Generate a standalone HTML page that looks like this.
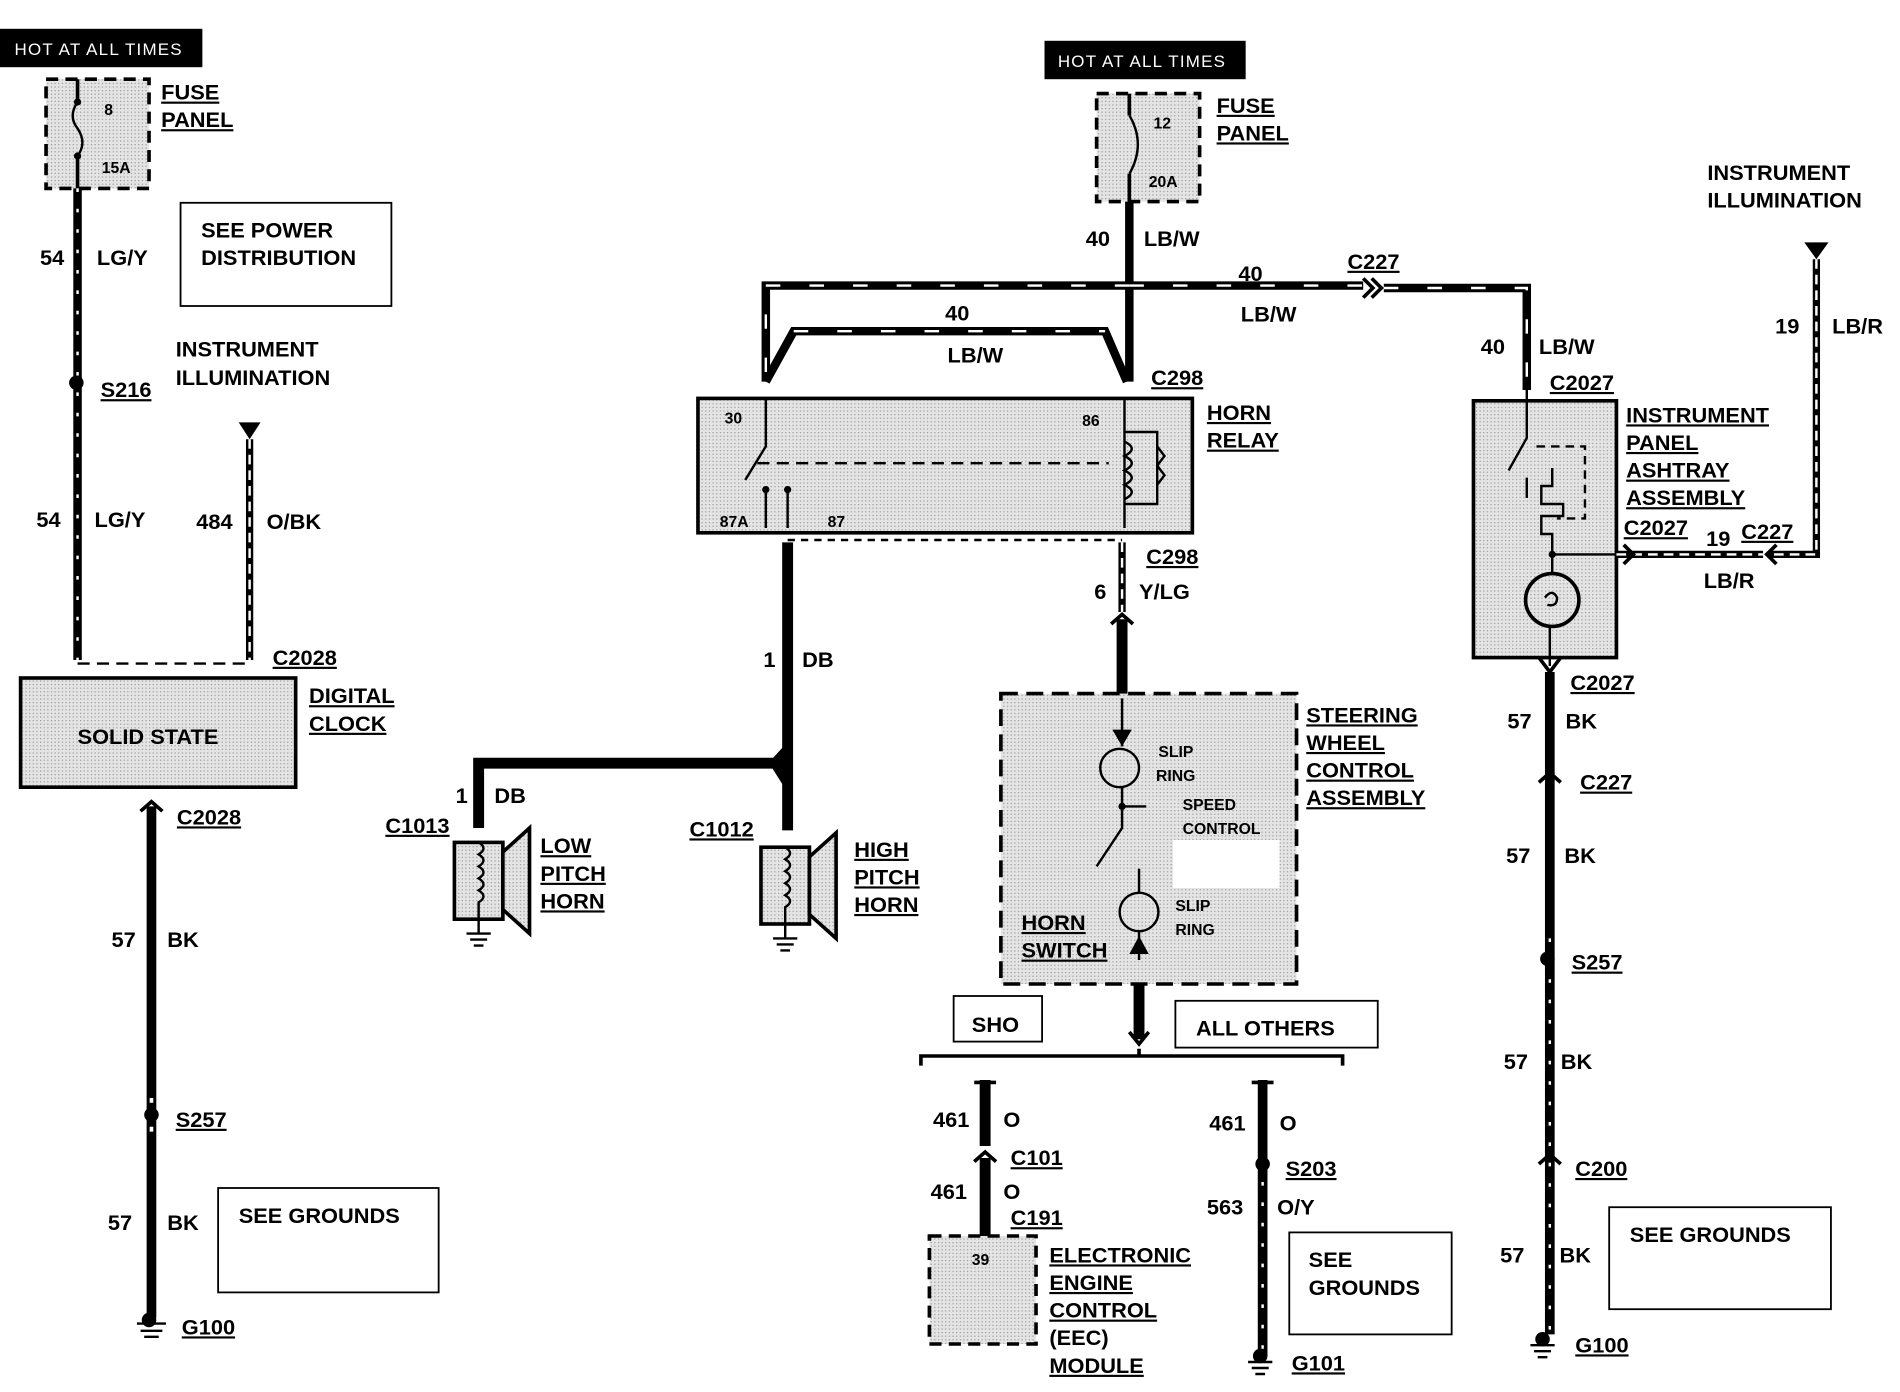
<!DOCTYPE html>
<html><head><meta charset="utf-8"><style>
html,body{margin:0;padding:0;background:#fff;}
svg{display:block;}
text{font-family:"Liberation Sans",sans-serif;font-weight:bold;font-size:18px;fill:#000;transform:translateY(3px);}
.u{text-decoration:underline;}
.s{font-size:13px;}
.w{fill:#fff;font-size:14px;font-weight:normal;letter-spacing:1px;}
</style></head><body>
<svg width="1900" height="1392" viewBox="0 0 1568 1160" preserveAspectRatio="none" xmlns="http://www.w3.org/2000/svg">
<defs>
<pattern id="g" width="3" height="3" patternUnits="userSpaceOnUse"><rect width="3" height="3" fill="#e4e4e4"/><rect width="1" height="1" fill="#9a9a9a"/></pattern>
</defs>
<rect width="1568" height="1160" fill="#fff"/>

<!-- LEFT -->
<rect x="0" y="24" width="167" height="32" fill="#000"/>
<text x="12" y="43" class="w">HOT AT ALL TIMES</text>
<rect x="38" y="66" width="85" height="91" fill="url(#g)" stroke="#000" stroke-width="3" stroke-dasharray="10,6"/>
<path d="M64 66 V85 M64 130 V157" stroke="#000" stroke-width="3"/>
<path d="M64 85 q-8 12 0 22 q8 12 0 23" fill="none" stroke="#000" stroke-width="2"/>
<circle cx="64" cy="85" r="3"/><circle cx="64" cy="130" r="3"/>
<text x="86" y="93" class="s">8</text><text x="84" y="141" class="s">15A</text>
<text x="133" y="80" class="u">FUSE</text><text x="133" y="103" class="u">PANEL</text>
<line x1="64" y1="157" x2="64" y2="550" stroke="#000" stroke-width="7"/>
<line x1="64" y1="157" x2="64" y2="550" stroke="#fff" stroke-width="2" stroke-dasharray="3,14"/>
<text x="33" y="218">54</text><text x="80" y="218">LG/Y</text>
<circle cx="63" cy="319" r="6"/><text x="83" y="328" class="u">S216</text>
<text x="30" y="436">54</text><text x="78" y="436">LG/Y</text>
<rect x="149" y="169" width="174" height="86" fill="none" stroke="#000" stroke-width="1.5"/>
<text x="166" y="195">SEE POWER</text><text x="166" y="218">DISTRIBUTION</text>
<text x="145" y="294">INSTRUMENT</text><text x="145" y="318">ILLUMINATION</text>
<path d="M197 352 H215 L206 366 Z"/>
<line x1="206" y1="366" x2="206" y2="550" stroke="#000" stroke-width="6"/>
<line x1="206" y1="366" x2="206" y2="550" stroke="#fff" stroke-width="2" stroke-dasharray="8,5"/>
<text x="162" y="438">484</text><text x="220" y="438">O/BK</text>
<line x1="64" y1="553" x2="206" y2="553" stroke="#000" stroke-width="2" stroke-dasharray="10,6"/>
<text x="225" y="551" class="u">C2028</text>
<rect x="17" y="565" width="227" height="91" fill="url(#g)" stroke="#000" stroke-width="3"/>
<text x="64" y="617">SOLID STATE</text>
<text x="255" y="583" class="u">DIGITAL</text><text x="255" y="606" class="u">CLOCK</text>
<line x1="125" y1="672" x2="125" y2="1098" stroke="#000" stroke-width="8"/>
<path d="M116 676 L125 668 L134 676" fill="none" stroke="#000" stroke-width="3"/>
<text x="146" y="684" class="u">C2028</text>
<text x="92" y="786">57</text><text x="138" y="786">BK</text>
<line x1="125" y1="915" x2="125" y2="945" stroke="#fff" stroke-width="3" stroke-dasharray="4,20"/>
<circle cx="125" cy="929" r="6"/><text x="145" y="936" class="u">S257</text>
<text x="89" y="1022">57</text><text x="138" y="1022">BK</text>
<path d="M113 1103 H137 M116 1109 H134 M119 1114 H131" stroke="#000" stroke-width="2"/>
<circle cx="123" cy="1100" r="6"/>
<text x="150" y="1109" class="u">G100</text>
<rect x="180" y="990" width="182" height="87" fill="none" stroke="#000" stroke-width="1.5"/>
<text x="197" y="1016">SEE GROUNDS</text>

<!-- MIDDLE -->
<rect x="862" y="34" width="166" height="32" fill="#000"/>
<text x="873" y="53" class="w">HOT AT ALL TIMES</text>
<rect x="905" y="78" width="85" height="90" fill="url(#g)" stroke="#000" stroke-width="3" stroke-dasharray="10,6"/>
<path d="M932 78 V96 M932 145 V168" stroke="#000" stroke-width="3"/>
<path d="M932 96 q14 24 0 49" fill="none" stroke="#000" stroke-width="2"/>
<text x="952" y="104" class="s">12</text><text x="948" y="153" class="s">20A</text>
<text x="1004" y="91" class="u">FUSE</text><text x="1004" y="114" class="u">PANEL</text>
<g stroke="#000" stroke-width="7" fill="none">
<path d="M932 168 V318"/>
<path d="M932 238 H632 V318"/>
<path d="M632 318 L655 276 H912 L930 318"/>
<path d="M932 238 H1125 M1142 240 H1260 V325"/>
</g>
<g stroke="#fff" stroke-width="2" stroke-dasharray="12,24" fill="none">
<path d="M932 238 H632 V318"/>
<path d="M655 276 H912"/>
<path d="M932 238 H1125 M1142 240 H1260 V325"/>
</g>
<path d="M1125 232 L1133 240 L1125 248 M1132 232 L1140 240 L1132 248" fill="none" stroke="#000" stroke-width="3"/>
<text x="896" y="202">40</text><text x="944" y="202">LB/W</text>
<text x="780" y="264">40</text><text x="782" y="299">LB/W</text>
<text x="1022" y="231">40</text><text x="1024" y="265">LB/W</text>
<text x="1112" y="221" class="u">C227</text>
<text x="950" y="318" class="u">C298</text>
<rect x="576" y="332" width="408" height="112" fill="url(#g)" stroke="#000" stroke-width="3"/>
<g stroke="#000" stroke-width="2" fill="none">
<path d="M632 332 V372 L615 400 M632 408 V440 M650 408 V440"/>
<path d="M625 386 H915" stroke-dasharray="10,6"/>
<path d="M928 332 V440 M928 360 H955 V420 H928"/>
<path d="M928 368 q12 6 0 12 q12 6 0 12 q12 6 0 12 q12 6 0 12"/>
<path d="M955 372 l6 8 l-6 8 l6 8 l-6 8"/>
</g>
<circle cx="632" cy="408" r="3"/><circle cx="650" cy="408" r="3"/>
<text x="598" y="350" class="s">30</text><text x="893" y="352" class="s">86</text>
<text x="594" y="436" class="s">87A</text><text x="683" y="436" class="s">87</text>
<text x="996" y="347" class="u">HORN</text><text x="996" y="370" class="u">RELAY</text>
<line x1="650" y1="450" x2="926" y2="450" stroke="#000" stroke-width="2" stroke-dasharray="6,5"/>
<path d="M650 452 V625 L640 636 H395 V690 M650 625 V692 M640 636 L650 652" fill="none" stroke="#000" stroke-width="9"/>
<text x="630" y="553">1</text><text x="662" y="553">DB</text>
<text x="376" y="666">1</text><text x="408" y="666">DB</text>
<text x="318" y="691" class="u">C1013</text><text x="569" y="694" class="u">C1012</text>
<!-- horns -->
<g stroke="#000" stroke-width="3" fill="url(#g)">
<rect x="375" y="702" width="40" height="64"/><path d="M415 710 L437 690 V778 L415 758 Z"/>
<rect x="628" y="706" width="40" height="64"/><path d="M668 714 L690 694 V782 L668 762 Z"/>
</g>
<g stroke="#000" stroke-width="2" fill="none">
<path d="M395 702 q8 5 0 10 q8 5 0 10 q8 5 0 10 q8 5 0 10 q8 5 0 10 V778 M385 778 H405 M388 783 H402 M391 788 H399"/>
<path d="M648 706 q8 5 0 10 q8 5 0 10 q8 5 0 10 q8 5 0 10 q8 5 0 10 V782 M638 782 H658 M641 787 H655 M644 792 H652"/>
</g>
<text x="446" y="708" class="u">LOW</text><text x="446" y="731" class="u">PITCH</text><text x="446" y="754" class="u">HORN</text>
<text x="705" y="711" class="u">HIGH</text><text x="705" y="734" class="u">PITCH</text><text x="705" y="757" class="u">HORN</text>
<line x1="926" y1="452" x2="926" y2="510" stroke="#000" stroke-width="6"/>
<line x1="926" y1="452" x2="926" y2="510" stroke="#fff" stroke-width="2" stroke-dasharray="8,5"/>
<line x1="926" y1="516" x2="926" y2="582" stroke="#000" stroke-width="9"/>
<path d="M917 520 L926 512 L935 520" fill="none" stroke="#000" stroke-width="3"/>
<text x="946" y="467" class="u">C298</text>
<text x="903" y="496">6</text><text x="940" y="496">Y/LG</text>
<rect x="826" y="578" width="244" height="242" fill="url(#g)" stroke="#000" stroke-width="3" stroke-dasharray="14,7"/>
<rect x="968" y="700" width="88" height="40" fill="#fff"/>
<g stroke="#000" stroke-width="2" fill="none">
<path d="M926 582 V622 M926 656 V690 L905 722 M926 672 H946 M940 724 V744 M940 776 V800"/>
<circle cx="924" cy="640" r="16"/><circle cx="940" cy="760" r="16"/>
</g>
<path d="M918 608 H934 L926 622 Z"/><path d="M932 795 H948 L940 780 Z"/>
<circle cx="926" cy="672" r="3"/>
<text x="956" y="628" class="s">SLIP</text><text x="954" y="648" class="s">RING</text>
<text x="976" y="672" class="s">SPEED</text><text x="976" y="692" class="s">CONTROL</text>
<text x="970" y="756" class="s">SLIP</text><text x="970" y="776" class="s">RING</text>
<text x="843" y="772" class="u">HORN</text><text x="843" y="795" class="u">SWITCH</text>
<text x="1078" y="599" class="u">STEERING</text><text x="1078" y="622" class="u">WHEEL</text>
<text x="1078" y="645" class="u">CONTROL</text><text x="1078" y="668" class="u">ASSEMBLY</text>
<line x1="940" y1="820" x2="940" y2="866" stroke="#000" stroke-width="9"/>
<path d="M932 860 L940 870 L948 860" fill="none" stroke="#000" stroke-width="3"/>
<rect x="787" y="830" width="73" height="38" fill="none" stroke="#000" stroke-width="1.5"/>
<text x="802" y="857">SHO</text>
<rect x="970" y="834" width="167" height="39" fill="none" stroke="#000" stroke-width="1.5"/>
<text x="987" y="860">ALL OTHERS</text>
<path d="M760 888 V880 H1108 V888 M940 880 V874" fill="none" stroke="#000" stroke-width="3"/>
<!-- left branch -->
<path d="M813 900 V955 M813 965 V1030" stroke="#000" stroke-width="9"/>
<path d="M804 902 H822 M804 968 L813 960 L822 968" fill="none" stroke="#000" stroke-width="3"/>
<text x="770" y="936">461</text><text x="828" y="936">O</text>
<text x="834" y="968" class="u">C101</text>
<text x="768" y="996">461</text><text x="828" y="996">O</text>
<text x="834" y="1018" class="u">C191</text>
<rect x="767" y="1030" width="88" height="90" fill="url(#g)" stroke="#000" stroke-width="3" stroke-dasharray="10,6"/>
<text x="802" y="1051" class="s">39</text>
<text x="866" y="1049" class="u">ELECTRONIC</text><text x="866" y="1072" class="u">ENGINE</text>
<text x="866" y="1095" class="u">CONTROL</text><text x="866" y="1118">(EEC)</text>
<text x="866" y="1141" class="u">MODULE</text>
<!-- right branch -->
<path d="M1042 900 V1130" stroke="#000" stroke-width="8"/>
<path d="M1033 902 H1051" stroke="#000" stroke-width="3"/>
<line x1="1042" y1="985" x2="1042" y2="1125" stroke="#fff" stroke-width="2" stroke-dasharray="3,14"/>
<circle cx="1042" cy="970" r="6"/>
<text x="998" y="939">461</text><text x="1056" y="939">O</text>
<text x="1061" y="977" class="u">S203</text>
<text x="996" y="1009">563</text><text x="1054" y="1009">O/Y</text>
<circle cx="1040" cy="1130" r="6"/>
<path d="M1030 1135 H1050 M1033 1140 H1047 M1036 1145 H1044" stroke="#000" stroke-width="2"/>
<text x="1066" y="1139" class="u">G101</text>
<rect x="1064" y="1027" width="134" height="85" fill="none" stroke="#000" stroke-width="1.5"/>
<text x="1080" y="1053">SEE</text><text x="1080" y="1076">GROUNDS</text>

<!-- RIGHT -->
<text x="1409" y="147">INSTRUMENT</text><text x="1409" y="170">ILLUMINATION</text>
<path d="M1489 202 H1509 L1499 216 Z"/>
<path d="M1499 216 V462 H1460" fill="none" stroke="#000" stroke-width="6"/>
<path d="M1499 216 V462 H1460" fill="none" stroke="#fff" stroke-width="2" stroke-dasharray="8,5"/>
<text x="1465" y="275">19</text><text x="1512" y="275">LB/R</text>
<text x="1222" y="292">40</text><text x="1270" y="292">LB/W</text>
<text x="1279" y="322" class="u">C2027</text>
<rect x="1216" y="334" width="118" height="214" fill="url(#g)" stroke="#000" stroke-width="3"/>
<g stroke="#000" stroke-width="2" fill="none">
<path d="M1260 325 V365 L1245 392 M1260 398 V415"/>
<path d="M1268 372 H1308 V432 H1285" stroke-dasharray="7,5"/>
<path d="M1281 390 V405 H1272 V420 H1290 V430 H1272 V445 H1281 V478 M1281 462 H1334 M1279 522 V555"/>
<circle cx="1281" cy="500" r="22" stroke-width="3"/>
<path d="M1275 498 q6 -8 10 0 q0 8 -8 6"/>
</g>
<circle cx="1281" cy="462" r="3"/>
<line x1="1334" y1="462" x2="1455" y2="462" stroke="#000" stroke-width="6"/>
<line x1="1334" y1="462" x2="1455" y2="462" stroke="#fff" stroke-width="2" stroke-dasharray="8,5"/>
<path d="M1340 454 L1348 462 L1340 470 M1466 454 L1458 462 L1466 470" fill="none" stroke="#000" stroke-width="3"/>
<path d="M1270 548 L1279 560 L1288 548" fill="none" stroke="#000" stroke-width="3"/>
<text x="1342" y="349" class="u">INSTRUMENT</text><text x="1342" y="372" class="u">PANEL</text>
<text x="1342" y="395" class="u">ASHTRAY</text><text x="1342" y="418" class="u">ASSEMBLY</text>
<text x="1340" y="443" class="u">C2027</text><text x="1408" y="452">19</text>
<text x="1437" y="446" class="u">C227</text><text x="1406" y="487">LB/R</text>
<line x1="1279" y1="560" x2="1279" y2="1112" stroke="#000" stroke-width="8"/>
<path d="M1270 652 L1279 644 L1288 652 M1270 970 L1279 962 L1288 970" fill="none" stroke="#000" stroke-width="3"/>
<line x1="1279" y1="782" x2="1279" y2="1110" stroke="#fff" stroke-width="2" stroke-dasharray="3,14"/>
<circle cx="1277" cy="799" r="6"/>
<text x="1296" y="572" class="u">C2027</text>
<text x="1244" y="604">57</text><text x="1292" y="604">BK</text>
<text x="1304" y="655" class="u">C227</text>
<text x="1243" y="716">57</text><text x="1291" y="716">BK</text>
<text x="1297" y="805" class="u">S257</text>
<text x="1241" y="888">57</text><text x="1288" y="888">BK</text>
<text x="1300" y="977" class="u">C200</text>
<text x="1238" y="1049">57</text><text x="1287" y="1049">BK</text>
<circle cx="1273" cy="1116" r="6"/>
<path d="M1263 1121 H1283 M1266 1126 H1280 M1269 1131 H1277" stroke="#000" stroke-width="2"/>
<text x="1300" y="1124" class="u">G100</text>
<rect x="1328" y="1006" width="183" height="85" fill="none" stroke="#000" stroke-width="1.5"/>
<text x="1345" y="1032">SEE GROUNDS</text>
</svg>
</body></html>
